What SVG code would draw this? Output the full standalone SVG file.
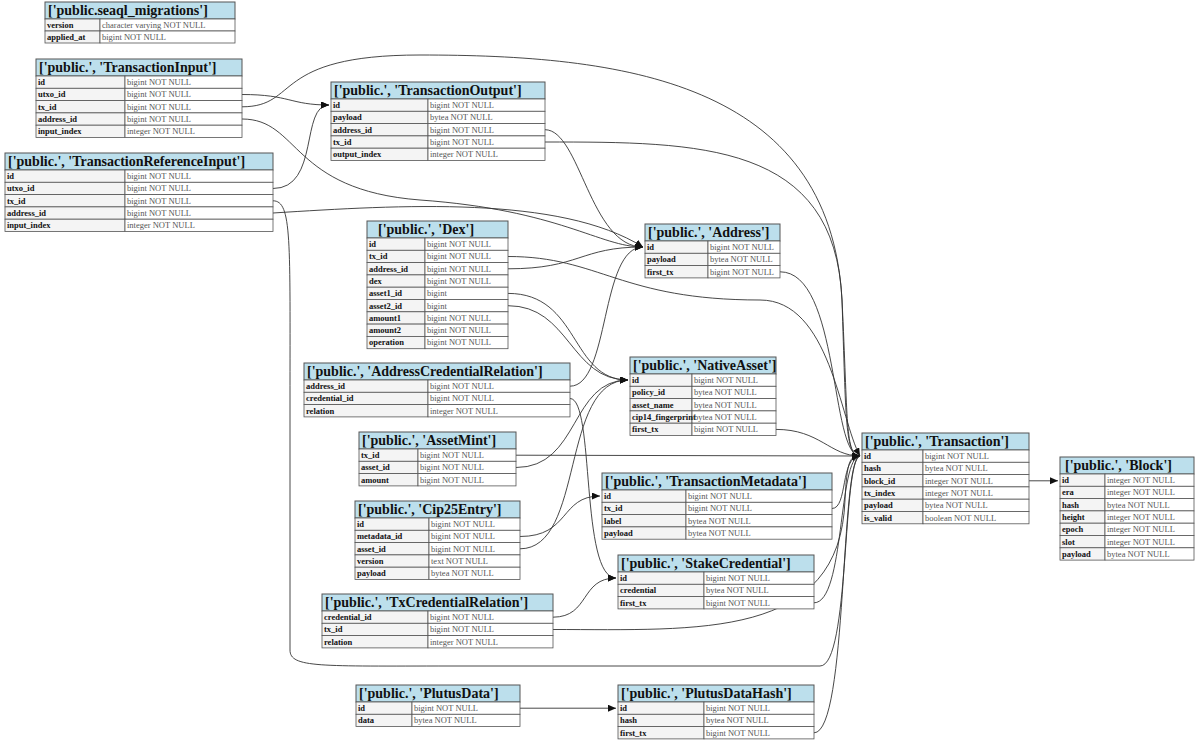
<svg xmlns="http://www.w3.org/2000/svg" width="1200" height="744" viewBox="0 0 1200 744">
<style>
.h{fill:#bcdfec;stroke:#555;stroke-width:1}
.n{fill:#f4f4f4;stroke:#555;stroke-width:0.8}
.t{fill:#fff;stroke:#555;stroke-width:0.8}
.ht{font-family:"Liberation Serif",serif;font-size:14px;font-weight:bold;fill:#111}
.nt{font-family:"Liberation Serif",serif;font-size:8.5px;font-weight:bold;fill:#111}
.tt{font-family:"Liberation Serif",serif;font-size:8.5px;fill:#555}
.e{fill:none;stroke:#333;stroke-width:0.9}
</style>
<defs><marker id="a" markerUnits="userSpaceOnUse" markerWidth="9" markerHeight="8" refX="8" refY="3.5" orient="auto"><path d="M0,0 L8,3.5 L0,7 z" fill="#111"/></marker></defs>
<rect width="1200" height="744" fill="#fff"/>
<g id="connectors">
<path class="e" marker-end="url(#a)" d="M242,94.5 C290,94.5 290,105 329,105"/>
<path class="e" marker-end="url(#a)" d="M242,106.8 C300,106.8 270,55 420,55 C620,55 830,80 842,300 C848,420 845,456 860,456"/>
<path class="e" marker-end="url(#a)" d="M242,119 C300,119 290,190 420,200 C560,210 600,247 643,247"/>
<path class="e" marker-end="url(#a)" d="M273,188.5 C320,188.5 300,105 329,105"/>
<path class="e" marker-end="url(#a)" d="M273,200.8 C292,200.8 290,240 290,400 L290,650 C290,668 320,666 450,666 L820,666 C850,666 842,460 860,456"/>
<path class="e" marker-end="url(#a)" d="M273,213 C400,205 560,195 643,247"/>
<path class="e" marker-end="url(#a)" d="M545,129.7 C580,129.7 590,247 643,247"/>
<path class="e" marker-end="url(#a)" d="M545,142 C700,142 835,142 842,300 C846,420 845,456 860,456"/>
<path class="e" marker-end="url(#a)" d="M508,256.5 C600,256.5 620,300 760,300 C830,300 840,420 860,456"/>
<path class="e" marker-end="url(#a)" d="M508,268.8 C580,268.8 580,247 643,247"/>
<path class="e" marker-end="url(#a)" d="M508,293.4 C580,293.4 570,380 628,380"/>
<path class="e" marker-end="url(#a)" d="M508,305.7 C570,305.7 570,380 628,380"/>
<path class="e" marker-end="url(#a)" d="M780,271.8 C840,271.8 830,456 860,456"/>
<path class="e" marker-end="url(#a)" d="M570,386.2 C610,386 600,247 643,247"/>
<path class="e" marker-end="url(#a)" d="M570,398.5 C595,398.5 580,578 616,578"/>
<path class="e" marker-end="url(#a)" d="M776,429.4 C820,429.4 830,456 860,456"/>
<path class="e" marker-end="url(#a)" d="M516,455.2 L860,456"/>
<path class="e" marker-end="url(#a)" d="M516,467.5 C580,467.5 570,380 628,380"/>
<path class="e" marker-end="url(#a)" d="M832,508.5 C848,508.5 840,456 860,456"/>
<path class="e" marker-end="url(#a)" d="M520,536.5 C570,536.5 560,496 600,496"/>
<path class="e" marker-end="url(#a)" d="M520,548.8 C585,548.8 560,380 628,380"/>
<path class="e" marker-end="url(#a)" d="M814,602.8 C845,602.8 838,456 860,456"/>
<path class="e" marker-end="url(#a)" d="M553,617.2 C590,617 580,578 616,578"/>
<path class="e" marker-end="url(#a)" d="M553,629.5 C700,629.5 840,640 845,500 C847,460 850,456 860,456"/>
<path class="e" marker-end="url(#a)" d="M520,708.2 L616,708.2"/>
<path class="e" marker-end="url(#a)" d="M814,732.8 C848,732.8 840,456 860,456"/>
<path class="e" marker-end="url(#a)" d="M1029,480.8 L1058,480.8"/>
</g>
<g id="seaql_migrations">
<rect class="h" x="45" y="2" width="190" height="17"/><text class="ht" x="48" y="15">['public.seaql_migrations']</text>
<rect class="n" x="45" y="19" width="55" height="12"/><rect class="t" x="100" y="19" width="135" height="12"/><text class="nt" x="47" y="28">version</text><text class="tt" x="102" y="28">character varying NOT NULL</text>
<rect class="n" x="45" y="31" width="55" height="12"/><rect class="t" x="100" y="31" width="135" height="12"/><text class="nt" x="47" y="40">applied_at</text><text class="tt" x="102" y="40">bigint NOT NULL</text>
</g>
<g id="TransactionInput">
<rect class="h" x="36" y="59" width="206" height="17"/><text class="ht" x="39" y="72">['public.', 'TransactionInput']</text>
<rect class="n" x="36" y="76" width="89" height="12.3"/><rect class="t" x="125" y="76" width="117" height="12.3"/><text class="nt" x="38" y="85">id</text><text class="tt" x="127" y="85">bigint NOT NULL</text>
<rect class="n" x="36" y="88.3" width="89" height="12.3"/><rect class="t" x="125" y="88.3" width="117" height="12.3"/><text class="nt" x="38" y="97.3">utxo_id</text><text class="tt" x="127" y="97.3">bigint NOT NULL</text>
<rect class="n" x="36" y="100.6" width="89" height="12.3"/><rect class="t" x="125" y="100.6" width="117" height="12.3"/><text class="nt" x="38" y="109.6">tx_id</text><text class="tt" x="127" y="109.6">bigint NOT NULL</text>
<rect class="n" x="36" y="112.9" width="89" height="12.3"/><rect class="t" x="125" y="112.9" width="117" height="12.3"/><text class="nt" x="38" y="121.9">address_id</text><text class="tt" x="127" y="121.9">bigint NOT NULL</text>
<rect class="n" x="36" y="125.2" width="89" height="12.3"/><rect class="t" x="125" y="125.2" width="117" height="12.3"/><text class="nt" x="38" y="134.2">input_index</text><text class="tt" x="127" y="134.2">integer NOT NULL</text>
</g>
<g id="TransactionOutput">
<rect class="h" x="331" y="82" width="214" height="17"/><text class="ht" x="334" y="95">['public.', 'TransactionOutput']</text>
<rect class="n" x="331" y="99" width="97" height="12.3"/><rect class="t" x="428" y="99" width="117" height="12.3"/><text class="nt" x="333" y="108">id</text><text class="tt" x="430" y="108">bigint NOT NULL</text>
<rect class="n" x="331" y="111.3" width="97" height="12.3"/><rect class="t" x="428" y="111.3" width="117" height="12.3"/><text class="nt" x="333" y="120.3">payload</text><text class="tt" x="430" y="120.3">bytea NOT NULL</text>
<rect class="n" x="331" y="123.6" width="97" height="12.3"/><rect class="t" x="428" y="123.6" width="117" height="12.3"/><text class="nt" x="333" y="132.6">address_id</text><text class="tt" x="430" y="132.6">bigint NOT NULL</text>
<rect class="n" x="331" y="135.9" width="97" height="12.3"/><rect class="t" x="428" y="135.9" width="117" height="12.3"/><text class="nt" x="333" y="144.9">tx_id</text><text class="tt" x="430" y="144.9">bigint NOT NULL</text>
<rect class="n" x="331" y="148.2" width="97" height="12.3"/><rect class="t" x="428" y="148.2" width="117" height="12.3"/><text class="nt" x="333" y="157.2">output_index</text><text class="tt" x="430" y="157.2">integer NOT NULL</text>
</g>
<g id="TransactionReferenceInput">
<rect class="h" x="5" y="153" width="268" height="17"/><text class="ht" x="8" y="166">['public.', 'TransactionReferenceInput']</text>
<rect class="n" x="5" y="170" width="120" height="12.3"/><rect class="t" x="125" y="170" width="148" height="12.3"/><text class="nt" x="7" y="179">id</text><text class="tt" x="127" y="179">bigint NOT NULL</text>
<rect class="n" x="5" y="182.3" width="120" height="12.3"/><rect class="t" x="125" y="182.3" width="148" height="12.3"/><text class="nt" x="7" y="191.3">utxo_id</text><text class="tt" x="127" y="191.3">bigint NOT NULL</text>
<rect class="n" x="5" y="194.6" width="120" height="12.3"/><rect class="t" x="125" y="194.6" width="148" height="12.3"/><text class="nt" x="7" y="203.6">tx_id</text><text class="tt" x="127" y="203.6">bigint NOT NULL</text>
<rect class="n" x="5" y="206.9" width="120" height="12.3"/><rect class="t" x="125" y="206.9" width="148" height="12.3"/><text class="nt" x="7" y="215.9">address_id</text><text class="tt" x="127" y="215.9">bigint NOT NULL</text>
<rect class="n" x="5" y="219.2" width="120" height="12.3"/><rect class="t" x="125" y="219.2" width="148" height="12.3"/><text class="nt" x="7" y="228.2">input_index</text><text class="tt" x="127" y="228.2">integer NOT NULL</text>
</g>
<g id="Dex">
<rect class="h" x="367" y="221" width="141" height="17"/><text class="ht" x="378" y="234">['public.', 'Dex']</text>
<rect class="n" x="367" y="238" width="58" height="12.3"/><rect class="t" x="425" y="238" width="83" height="12.3"/><text class="nt" x="369" y="247">id</text><text class="tt" x="427" y="247">bigint NOT NULL</text>
<rect class="n" x="367" y="250.3" width="58" height="12.3"/><rect class="t" x="425" y="250.3" width="83" height="12.3"/><text class="nt" x="369" y="259.3">tx_id</text><text class="tt" x="427" y="259.3">bigint NOT NULL</text>
<rect class="n" x="367" y="262.6" width="58" height="12.3"/><rect class="t" x="425" y="262.6" width="83" height="12.3"/><text class="nt" x="369" y="271.6">address_id</text><text class="tt" x="427" y="271.6">bigint NOT NULL</text>
<rect class="n" x="367" y="274.9" width="58" height="12.3"/><rect class="t" x="425" y="274.9" width="83" height="12.3"/><text class="nt" x="369" y="283.9">dex</text><text class="tt" x="427" y="283.9">bigint NOT NULL</text>
<rect class="n" x="367" y="287.2" width="58" height="12.3"/><rect class="t" x="425" y="287.2" width="83" height="12.3"/><text class="nt" x="369" y="296.2">asset1_id</text><text class="tt" x="427" y="296.2">bigint</text>
<rect class="n" x="367" y="299.5" width="58" height="12.3"/><rect class="t" x="425" y="299.5" width="83" height="12.3"/><text class="nt" x="369" y="308.5">asset2_id</text><text class="tt" x="427" y="308.5">bigint</text>
<rect class="n" x="367" y="311.8" width="58" height="12.3"/><rect class="t" x="425" y="311.8" width="83" height="12.3"/><text class="nt" x="369" y="320.8">amount1</text><text class="tt" x="427" y="320.8">bigint NOT NULL</text>
<rect class="n" x="367" y="324.1" width="58" height="12.3"/><rect class="t" x="425" y="324.1" width="83" height="12.3"/><text class="nt" x="369" y="333.1">amount2</text><text class="tt" x="427" y="333.1">bigint NOT NULL</text>
<rect class="n" x="367" y="336.4" width="58" height="12.3"/><rect class="t" x="425" y="336.4" width="83" height="12.3"/><text class="nt" x="369" y="345.4">operation</text><text class="tt" x="427" y="345.4">bigint NOT NULL</text>
</g>
<g id="Address">
<rect class="h" x="645" y="224" width="135" height="17"/><text class="ht" x="648" y="237">['public.', 'Address']</text>
<rect class="n" x="645" y="241" width="63" height="12.3"/><rect class="t" x="708" y="241" width="72" height="12.3"/><text class="nt" x="647" y="250">id</text><text class="tt" x="710" y="250">bigint NOT NULL</text>
<rect class="n" x="645" y="253.3" width="63" height="12.3"/><rect class="t" x="708" y="253.3" width="72" height="12.3"/><text class="nt" x="647" y="262.3">payload</text><text class="tt" x="710" y="262.3">bytea NOT NULL</text>
<rect class="n" x="645" y="265.6" width="63" height="12.3"/><rect class="t" x="708" y="265.6" width="72" height="12.3"/><text class="nt" x="647" y="274.6">first_tx</text><text class="tt" x="710" y="274.6">bigint NOT NULL</text>
</g>
<g id="AddressCredentialRelation">
<rect class="h" x="304" y="363" width="266" height="17"/><text class="ht" x="307" y="376">['public.', 'AddressCredentialRelation']</text>
<rect class="n" x="304" y="380" width="124" height="12.3"/><rect class="t" x="428" y="380" width="142" height="12.3"/><text class="nt" x="306" y="389">address_id</text><text class="tt" x="430" y="389">bigint NOT NULL</text>
<rect class="n" x="304" y="392.3" width="124" height="12.3"/><rect class="t" x="428" y="392.3" width="142" height="12.3"/><text class="nt" x="306" y="401.3">credential_id</text><text class="tt" x="430" y="401.3">bigint NOT NULL</text>
<rect class="n" x="304" y="404.6" width="124" height="12.3"/><rect class="t" x="428" y="404.6" width="142" height="12.3"/><text class="nt" x="306" y="413.6">relation</text><text class="tt" x="430" y="413.6">integer NOT NULL</text>
</g>
<g id="NativeAsset">
<rect class="h" x="630" y="357" width="146" height="17"/><text class="ht" x="633" y="370">['public.', 'NativeAsset']</text>
<rect class="n" x="630" y="374" width="62" height="12.3"/><rect class="t" x="692" y="374" width="84" height="12.3"/><text class="nt" x="632" y="383">id</text><text class="tt" x="694" y="383">bigint NOT NULL</text>
<rect class="n" x="630" y="386.3" width="62" height="12.3"/><rect class="t" x="692" y="386.3" width="84" height="12.3"/><text class="nt" x="632" y="395.3">policy_id</text><text class="tt" x="694" y="395.3">bytea NOT NULL</text>
<rect class="n" x="630" y="398.6" width="62" height="12.3"/><rect class="t" x="692" y="398.6" width="84" height="12.3"/><text class="nt" x="632" y="407.6">asset_name</text><text class="tt" x="694" y="407.6">bytea NOT NULL</text>
<rect class="n" x="630" y="410.9" width="62" height="12.3"/><rect class="t" x="692" y="410.9" width="84" height="12.3"/><text class="nt" x="632" y="419.9">cip14_fingerprint</text><text class="tt" x="694" y="419.9">bytea NOT NULL</text>
<rect class="n" x="630" y="423.2" width="62" height="12.3"/><rect class="t" x="692" y="423.2" width="84" height="12.3"/><text class="nt" x="632" y="432.2">first_tx</text><text class="tt" x="694" y="432.2">bigint NOT NULL</text>
</g>
<g id="AssetMint">
<rect class="h" x="359" y="432" width="157" height="17"/><text class="ht" x="362" y="445">['public.', 'AssetMint']</text>
<rect class="n" x="359" y="449" width="59" height="12.3"/><rect class="t" x="418" y="449" width="98" height="12.3"/><text class="nt" x="361" y="458">tx_id</text><text class="tt" x="420" y="458">bigint NOT NULL</text>
<rect class="n" x="359" y="461.3" width="59" height="12.3"/><rect class="t" x="418" y="461.3" width="98" height="12.3"/><text class="nt" x="361" y="470.3">asset_id</text><text class="tt" x="420" y="470.3">bigint NOT NULL</text>
<rect class="n" x="359" y="473.6" width="59" height="12.3"/><rect class="t" x="418" y="473.6" width="98" height="12.3"/><text class="nt" x="361" y="482.6">amount</text><text class="tt" x="420" y="482.6">bigint NOT NULL</text>
</g>
<g id="Transaction">
<rect class="h" x="862" y="433" width="167" height="17"/><text class="ht" x="865" y="446">['public.', 'Transaction']</text>
<rect class="n" x="862" y="450" width="61" height="12.3"/><rect class="t" x="923" y="450" width="106" height="12.3"/><text class="nt" x="864" y="459">id</text><text class="tt" x="925" y="459">bigint NOT NULL</text>
<rect class="n" x="862" y="462.3" width="61" height="12.3"/><rect class="t" x="923" y="462.3" width="106" height="12.3"/><text class="nt" x="864" y="471.3">hash</text><text class="tt" x="925" y="471.3">bytea NOT NULL</text>
<rect class="n" x="862" y="474.6" width="61" height="12.3"/><rect class="t" x="923" y="474.6" width="106" height="12.3"/><text class="nt" x="864" y="483.6">block_id</text><text class="tt" x="925" y="483.6">integer NOT NULL</text>
<rect class="n" x="862" y="486.9" width="61" height="12.3"/><rect class="t" x="923" y="486.9" width="106" height="12.3"/><text class="nt" x="864" y="495.9">tx_index</text><text class="tt" x="925" y="495.9">integer NOT NULL</text>
<rect class="n" x="862" y="499.2" width="61" height="12.3"/><rect class="t" x="923" y="499.2" width="106" height="12.3"/><text class="nt" x="864" y="508.2">payload</text><text class="tt" x="925" y="508.2">bytea NOT NULL</text>
<rect class="n" x="862" y="511.5" width="61" height="12.3"/><rect class="t" x="923" y="511.5" width="106" height="12.3"/><text class="nt" x="864" y="520.5">is_valid</text><text class="tt" x="925" y="520.5">boolean NOT NULL</text>
</g>
<g id="Block">
<rect class="h" x="1060" y="457" width="134" height="17"/><text class="ht" x="1065" y="470">['public.', 'Block']</text>
<rect class="n" x="1060" y="474" width="45" height="12.3"/><rect class="t" x="1105" y="474" width="89" height="12.3"/><text class="nt" x="1062" y="483">id</text><text class="tt" x="1107" y="483">integer NOT NULL</text>
<rect class="n" x="1060" y="486.3" width="45" height="12.3"/><rect class="t" x="1105" y="486.3" width="89" height="12.3"/><text class="nt" x="1062" y="495.3">era</text><text class="tt" x="1107" y="495.3">integer NOT NULL</text>
<rect class="n" x="1060" y="498.6" width="45" height="12.3"/><rect class="t" x="1105" y="498.6" width="89" height="12.3"/><text class="nt" x="1062" y="507.6">hash</text><text class="tt" x="1107" y="507.6">bytea NOT NULL</text>
<rect class="n" x="1060" y="510.9" width="45" height="12.3"/><rect class="t" x="1105" y="510.9" width="89" height="12.3"/><text class="nt" x="1062" y="519.9">height</text><text class="tt" x="1107" y="519.9">integer NOT NULL</text>
<rect class="n" x="1060" y="523.2" width="45" height="12.3"/><rect class="t" x="1105" y="523.2" width="89" height="12.3"/><text class="nt" x="1062" y="532.2">epoch</text><text class="tt" x="1107" y="532.2">integer NOT NULL</text>
<rect class="n" x="1060" y="535.5" width="45" height="12.3"/><rect class="t" x="1105" y="535.5" width="89" height="12.3"/><text class="nt" x="1062" y="544.5">slot</text><text class="tt" x="1107" y="544.5">integer NOT NULL</text>
<rect class="n" x="1060" y="547.8" width="45" height="12.3"/><rect class="t" x="1105" y="547.8" width="89" height="12.3"/><text class="nt" x="1062" y="556.8">payload</text><text class="tt" x="1107" y="556.8">bytea NOT NULL</text>
</g>
<g id="TransactionMetadata">
<rect class="h" x="602" y="473" width="230" height="17"/><text class="ht" x="605" y="486">['public.', 'TransactionMetadata']</text>
<rect class="n" x="602" y="490" width="84" height="12.3"/><rect class="t" x="686" y="490" width="146" height="12.3"/><text class="nt" x="604" y="499">id</text><text class="tt" x="688" y="499">bigint NOT NULL</text>
<rect class="n" x="602" y="502.3" width="84" height="12.3"/><rect class="t" x="686" y="502.3" width="146" height="12.3"/><text class="nt" x="604" y="511.3">tx_id</text><text class="tt" x="688" y="511.3">bigint NOT NULL</text>
<rect class="n" x="602" y="514.6" width="84" height="12.3"/><rect class="t" x="686" y="514.6" width="146" height="12.3"/><text class="nt" x="604" y="523.6">label</text><text class="tt" x="688" y="523.6">bytea NOT NULL</text>
<rect class="n" x="602" y="526.9" width="84" height="12.3"/><rect class="t" x="686" y="526.9" width="146" height="12.3"/><text class="nt" x="604" y="535.9">payload</text><text class="tt" x="688" y="535.9">bytea NOT NULL</text>
</g>
<g id="Cip25Entry">
<rect class="h" x="355" y="501" width="165" height="17"/><text class="ht" x="358" y="514">['public.', 'Cip25Entry']</text>
<rect class="n" x="355" y="518" width="74" height="12.3"/><rect class="t" x="429" y="518" width="91" height="12.3"/><text class="nt" x="357" y="527">id</text><text class="tt" x="431" y="527">bigint NOT NULL</text>
<rect class="n" x="355" y="530.3" width="74" height="12.3"/><rect class="t" x="429" y="530.3" width="91" height="12.3"/><text class="nt" x="357" y="539.3">metadata_id</text><text class="tt" x="431" y="539.3">bigint NOT NULL</text>
<rect class="n" x="355" y="542.6" width="74" height="12.3"/><rect class="t" x="429" y="542.6" width="91" height="12.3"/><text class="nt" x="357" y="551.6">asset_id</text><text class="tt" x="431" y="551.6">bigint NOT NULL</text>
<rect class="n" x="355" y="554.9" width="74" height="12.3"/><rect class="t" x="429" y="554.9" width="91" height="12.3"/><text class="nt" x="357" y="563.9">version</text><text class="tt" x="431" y="563.9">text NOT NULL</text>
<rect class="n" x="355" y="567.2" width="74" height="12.3"/><rect class="t" x="429" y="567.2" width="91" height="12.3"/><text class="nt" x="357" y="576.2">payload</text><text class="tt" x="431" y="576.2">bytea NOT NULL</text>
</g>
<g id="StakeCredential">
<rect class="h" x="618" y="555" width="196" height="17"/><text class="ht" x="621" y="568">['public.', 'StakeCredential']</text>
<rect class="n" x="618" y="572" width="86" height="12.3"/><rect class="t" x="704" y="572" width="110" height="12.3"/><text class="nt" x="620" y="581">id</text><text class="tt" x="706" y="581">bigint NOT NULL</text>
<rect class="n" x="618" y="584.3" width="86" height="12.3"/><rect class="t" x="704" y="584.3" width="110" height="12.3"/><text class="nt" x="620" y="593.3">credential</text><text class="tt" x="706" y="593.3">bytea NOT NULL</text>
<rect class="n" x="618" y="596.6" width="86" height="12.3"/><rect class="t" x="704" y="596.6" width="110" height="12.3"/><text class="nt" x="620" y="605.6">first_tx</text><text class="tt" x="706" y="605.6">bigint NOT NULL</text>
</g>
<g id="TxCredentialRelation">
<rect class="h" x="322" y="594" width="231" height="17"/><text class="ht" x="325" y="607">['public.', 'TxCredentialRelation']</text>
<rect class="n" x="322" y="611" width="106" height="12.3"/><rect class="t" x="428" y="611" width="125" height="12.3"/><text class="nt" x="324" y="620">credential_id</text><text class="tt" x="430" y="620">bigint NOT NULL</text>
<rect class="n" x="322" y="623.3" width="106" height="12.3"/><rect class="t" x="428" y="623.3" width="125" height="12.3"/><text class="nt" x="324" y="632.3">tx_id</text><text class="tt" x="430" y="632.3">bigint NOT NULL</text>
<rect class="n" x="322" y="635.6" width="106" height="12.3"/><rect class="t" x="428" y="635.6" width="125" height="12.3"/><text class="nt" x="324" y="644.6">relation</text><text class="tt" x="430" y="644.6">integer NOT NULL</text>
</g>
<g id="PlutusData">
<rect class="h" x="356" y="685" width="164" height="17"/><text class="ht" x="359" y="698">['public.', 'PlutusData']</text>
<rect class="n" x="356" y="702" width="56" height="12.3"/><rect class="t" x="412" y="702" width="108" height="12.3"/><text class="nt" x="358" y="711">id</text><text class="tt" x="414" y="711">bigint NOT NULL</text>
<rect class="n" x="356" y="714.3" width="56" height="12.3"/><rect class="t" x="412" y="714.3" width="108" height="12.3"/><text class="nt" x="358" y="723.3">data</text><text class="tt" x="414" y="723.3">bytea NOT NULL</text>
</g>
<g id="PlutusDataHash">
<rect class="h" x="618" y="685" width="196" height="17"/><text class="ht" x="621" y="698">['public.', 'PlutusDataHash']</text>
<rect class="n" x="618" y="702" width="86" height="12.3"/><rect class="t" x="704" y="702" width="110" height="12.3"/><text class="nt" x="620" y="711">id</text><text class="tt" x="706" y="711">bigint NOT NULL</text>
<rect class="n" x="618" y="714.3" width="86" height="12.3"/><rect class="t" x="704" y="714.3" width="110" height="12.3"/><text class="nt" x="620" y="723.3">hash</text><text class="tt" x="706" y="723.3">bytea NOT NULL</text>
<rect class="n" x="618" y="726.6" width="86" height="12.3"/><rect class="t" x="704" y="726.6" width="110" height="12.3"/><text class="nt" x="620" y="735.6">first_tx</text><text class="tt" x="706" y="735.6">bigint NOT NULL</text>
</g>
</svg>
